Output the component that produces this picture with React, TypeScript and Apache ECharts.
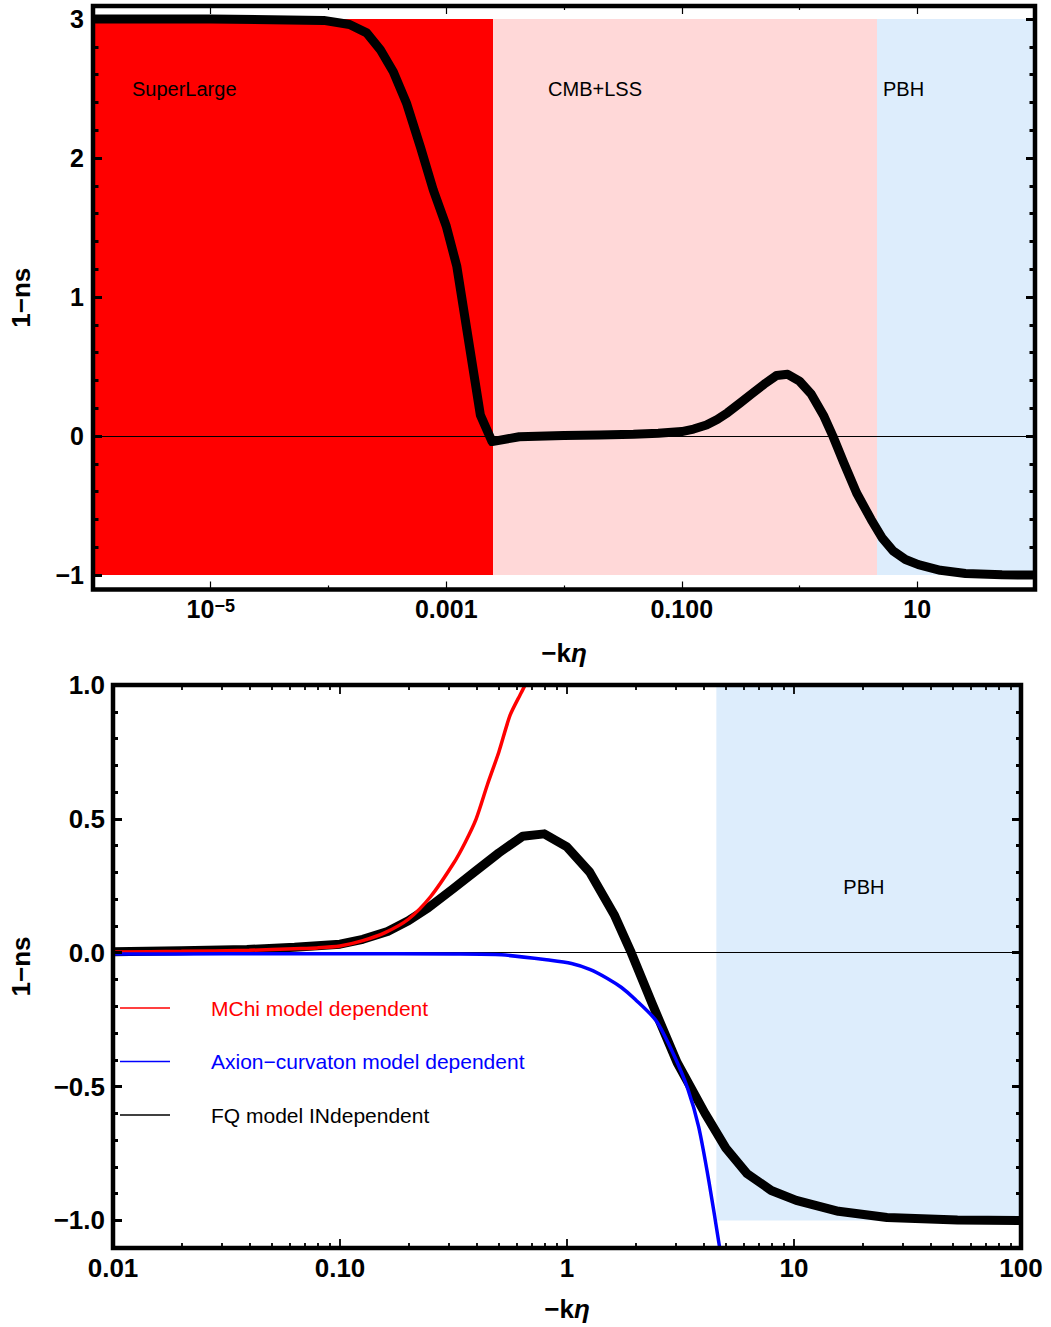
import React, { useEffect, useRef } from 'react';
import * as echarts from 'echarts';

const FONT = '"Liberation Sans", Arial, Helvetica, sans-serif';

// ---------- data ----------
// top panel: steep part of the FQ curve at super-large scales
const kTop = [1e-6, 1e-5, 9.1e-5, 1.51e-4, 2.11e-4, 2.75e-4, 3.55e-4, 4.62e-4, 6.03e-4, 7.76e-4, 1.0e-3, 1.23e-3, 1.95e-3, 2.45e-3, 4.17e-3];
const nsTop = [3.0, 3.0, 2.99, 2.96, 2.9, 2.78, 2.62, 2.39, 2.08, 1.77, 1.51, 1.22, 0.15, -0.04, -0.005];

// FQ model INdependent (0.01 .. 100)
const kFQ = [0.01, 0.02, 0.0389, 0.0631, 0.1, 0.126, 0.162, 0.2, 0.245, 0.316, 0.389, 0.501, 0.638, 0.794, 1, 1.256, 1.614, 1.919, 2.371, 3.055, 4.055, 5.01, 6.21, 7.94, 10.23, 15.7, 25.7, 52.5, 100];
const nsFQ = [0.004, 0.007, 0.012, 0.02, 0.032, 0.05, 0.079, 0.119, 0.168, 0.24, 0.3, 0.373, 0.435, 0.444, 0.395, 0.302, 0.142, 0.0, -0.19, -0.41, -0.6, -0.73, -0.825, -0.888, -0.925, -0.966, -0.989, -0.998, -1.0];

// MChi model dependent
const kMChi = [0.01, 0.02, 0.0398, 0.0631, 0.0794, 0.1, 0.126, 0.158, 0.2, 0.251, 0.316, 0.355, 0.398, 0.447, 0.501, 0.562, 0.631, 0.653, 0.708];
const nsMChi = [0.003, 0.005, 0.009, 0.015, 0.018, 0.025, 0.045, 0.075, 0.125, 0.21, 0.333, 0.41, 0.5, 0.63, 0.75, 0.888, 0.974, 1.0, 1.08];

// Axion-curvaton model dependent
const kAx = [0.01, 0.0316, 0.1, 0.316, 0.515, 0.845, 1.047, 1.259, 1.5, 1.738, 1.995, 2.47, 2.95, 3.4, 3.8, 4.22, 4.68, 4.79];
const nsAx = [-0.005, -0.004, -0.004, -0.005, -0.008, -0.028, -0.04, -0.062, -0.095, -0.13, -0.174, -0.254, -0.38, -0.507, -0.65, -0.855, -1.09, -1.15];

// regions
const topRegionNames = ['SuperLarge', 'CMB+LSS', 'PBH'];
const topRegionFrom = [1e-6, 0.0025, 4.55];
const topRegionTo = [0.0025, 4.55, 100];
const topRegionYRange = [-1, 3];
const botRegionName = 'PBH';
const botRegionFrom = 4.55;
const botRegionTo = 100;
const botRegionYRange = [-1, 1];

// tick labels
const topXTickVals = [1e-5, 1e-3, 0.1, 10];
const topXTickText = ['10^−5', '0.001', '0.100', '10'];
const topYTickVals = [-1, 0, 1, 2, 3];
const topYTickText = ['−1', '0', '1', '2', '3'];
const botXTickVals = [0.01, 0.1, 1, 10, 100];
const botXTickText = ['0.01', '0.10', '1', '10', '100'];
const botYTickVals = [-1, -0.5, 0, 0.5, 1];
const botYTickText = ['−1.0', '−0.5', '0.0', '0.5', '1.0'];

const seriesNames = ['MChi model dependent', 'Axion−curvaton model dependent', 'FQ model INdependent'];

// ---------- helpers ----------
const pairs = (xs: number[], ys: number[]) => xs.map((x, i) => [x, ys[i]]);

const nearestText = (vals: number[], texts: string[], v: number, log: boolean) => {
  let best = 0;
  let bd = Infinity;
  vals.forEach((t, i) => {
    const d = log ? Math.abs(Math.log10(t) - Math.log10(v)) : Math.abs(t - v);
    if (d < bd) { bd = d; best = i; }
  });
  return texts[best];
};

const topMinorX: number[] = [];
for (let e = -6; e <= 2; e++) {
  const v = Math.pow(10, e);
  if (!topXTickVals.some((t) => Math.abs(Math.log10(t) - e) < 1e-6)) topMinorX.push(v);
}
const topMinorY: number[] = [];
for (let i = -5; i <= 15; i++) { if (i % 5 !== 0) topMinorY.push(i * 0.2); }
const botMinorX: number[] = [];
for (let e = -2; e <= 1; e++) for (let m = 2; m <= 9; m++) botMinorX.push(m * Math.pow(10, e));
const botMinorY: number[] = [];
for (let i = -10; i <= 10; i++) { if (i % 5 !== 0) botMinorY.push(i * 0.1); }

const axisName = {
  fontFamily: FONT,
  fontSize: 26,
  fontWeight: 'bold',
  color: '#000',
  rich: {
    a: { fontFamily: FONT, fontSize: 26, fontWeight: 'bold', color: '#000' },
    b: { fontFamily: FONT, fontSize: 26, fontWeight: 'bold', fontStyle: 'italic', color: '#000' },
  },
};

function xAx(grid: number, min: number, max: number, pos: string, vals: number[], len: number, w: number, extra: any = {}) {
  return {
    type: 'log',
    logBase: 10,
    gridIndex: grid,
    min,
    max,
    position: pos,
    z: 10,
    axisLine: { show: false, onZero: false },
    splitLine: { show: false },
    axisTick: { show: true, inside: true, length: len, lineStyle: { color: '#000', width: w }, customValues: vals },
    axisLabel: { show: false },
    ...extra,
  };
}
function yAx(grid: number, min: number, max: number, pos: string, vals: number[], len: number, w: number, extra: any = {}) {
  return {
    type: 'value',
    gridIndex: grid,
    min,
    max,
    position: pos,
    z: 10,
    axisLine: { show: false, onZero: false },
    splitLine: { show: false },
    axisTick: { show: true, inside: true, length: len, lineStyle: { color: '#000', width: w }, customValues: vals },
    axisLabel: { show: false },
    ...extra,
  };
}

const TOP_YMIN = -1.104;
const TOP_YMAX = 3.0935;
const BOT_YMIN = -1.103;
const BOT_YMAX = 1.0;

const option: any = {
  animation: false,
  backgroundColor: '#fff',
  textStyle: { fontFamily: FONT },
  grid: [
    { left: 93, right: 16, top: 6, bottom: 737.5, show: true, z: 20, borderColor: '#000', borderWidth: 4.5, backgroundColor: 'transparent' },
    { left: 110, right: 30, top: 685, bottom: 79, show: true, z: 20, borderColor: '#000', borderWidth: 4.5, backgroundColor: 'transparent' },
  ],
  xAxis: [
    xAx(0, 1e-6, 100, 'bottom', topXTickVals, 8, 1.2, {
      name: '{a|−k}{b|η}',
      nameLocation: 'middle',
      nameGap: 50,
      nameTextStyle: axisName,
      axisLabel: {
        show: true,
        customValues: topXTickVals,
        margin: 7,
        fontFamily: FONT,
        fontSize: 25,
        fontWeight: 'bold',
        color: '#000',
        formatter: (v: number) => {
          const t = nearestText(topXTickVals, topXTickText, v, true);
          if (t.indexOf('^') >= 0) {
            const [b, e] = t.split('^');
            return `{n|${b}}{s|${e}}`;
          }
          return t;
        },
        rich: {
          n: { fontFamily: FONT, fontSize: 25, fontWeight: 'bold', color: '#000' },
          s: { fontFamily: FONT, fontSize: 18, fontWeight: 'bold', color: '#000', verticalAlign: 'top', lineHeight: 10 },
        },
      },
    }),
    xAx(0, 1e-6, 100, 'bottom', topMinorX, 4, 1.2),
    xAx(0, 1e-6, 100, 'top', topXTickVals, 8, 1.2),
    xAx(0, 1e-6, 100, 'top', topMinorX, 4, 1.2),
    xAx(1, 0.01, 100, 'bottom', botXTickVals, 9, 1.8, {
      name: '{a|−k}{b|η}',
      nameLocation: 'middle',
      nameGap: 48,
      nameTextStyle: axisName,
      axisLabel: {
        show: true,
        customValues: botXTickVals,
        margin: 7,
        fontFamily: FONT,
        fontSize: 26,
        fontWeight: 'bold',
        color: '#000',
        formatter: (v: number) => nearestText(botXTickVals, botXTickText, v, true),
      },
    }),
    xAx(1, 0.01, 100, 'bottom', botMinorX, 5, 1.8),
    xAx(1, 0.01, 100, 'top', botXTickVals, 9, 1.8),
    xAx(1, 0.01, 100, 'top', botMinorX, 5, 1.8),
  ],
  yAxis: [
    yAx(0, TOP_YMIN, TOP_YMAX, 'left', topYTickVals, 9, 3, {
      name: '1−ns',
      nameLocation: 'middle',
      nameGap: 59,
      nameRotate: 90,
      nameTextStyle: axisName,
      axisLabel: {
        show: true,
        customValues: topYTickVals,
        margin: 9,
        fontFamily: FONT,
        fontSize: 25,
        fontWeight: 'bold',
        color: '#000',
        formatter: (v: number) => nearestText(topYTickVals, topYTickText, v, false),
      },
    }),
    yAx(0, TOP_YMIN, TOP_YMAX, 'left', topMinorY, 5.5, 3),
    yAx(0, TOP_YMIN, TOP_YMAX, 'right', topYTickVals, 9, 3),
    yAx(0, TOP_YMIN, TOP_YMAX, 'right', topMinorY, 5.5, 3),
    yAx(1, BOT_YMIN, BOT_YMAX, 'left', botYTickVals, 9, 3, {
      name: '1−ns',
      nameLocation: 'middle',
      nameGap: 79,
      nameRotate: 90,
      nameTextStyle: axisName,
      axisLabel: {
        show: true,
        customValues: botYTickVals,
        margin: 8,
        fontFamily: FONT,
        fontSize: 26,
        fontWeight: 'bold',
        color: '#000',
        formatter: (v: number) => nearestText(botYTickVals, botYTickText, v, false),
      },
    }),
    yAx(1, BOT_YMIN, BOT_YMAX, 'left', botMinorY, 5, 3),
    yAx(1, BOT_YMIN, BOT_YMAX, 'right', botYTickVals, 9, 3),
    yAx(1, BOT_YMIN, BOT_YMAX, 'right', botMinorY, 5, 3),
  ],
  legend: {
    orient: 'vertical',
    left: 120,
    top: 996,
    padding: 0,
    itemWidth: 50,
    itemHeight: 1.6,
    itemGap: 29.5,
    icon: 'rect',
    selectedMode: false,
    textStyle: { fontFamily: FONT, fontSize: 21, lineHeight: 24, padding: [0, 0, 0, 36] },
    data: [
      { name: seriesNames[0], textStyle: { color: '#ff0000' } },
      { name: seriesNames[1], textStyle: { color: '#0000ff' } },
      { name: seriesNames[2], textStyle: { color: '#000000' } },
    ],
  },
  series: [
    // top regions
    {
      name: 'top-regions',
      type: 'line',
      xAxisIndex: 0,
      yAxisIndex: 0,
      data: [],
      z: 1,
      silent: true,
      markArea: {
        silent: true,
        data: topRegionNames.map((n, i) => [
          {
            name: n,
            xAxis: topRegionFrom[i],
            yAxis: topRegionYRange[0],
            itemStyle: { color: ['#ff0000', '#ffd8d8', '#ddedfc'][i], opacity: 1 },
            label: {
              show: true,
              position: [[39, 70], [55, 70], [6, 70]][i],
              align: 'left',
              verticalAlign: 'middle',
              color: '#000',
              fontFamily: FONT,
              fontSize: 20,
            },
          },
          { xAxis: topRegionTo[i], yAxis: topRegionYRange[1] },
        ]),
      },
    },
    {
      name: 'top-zero',
      type: 'line',
      xAxisIndex: 0,
      yAxisIndex: 0,
      data: [],
      z: 2,
      silent: true,
      markLine: {
        silent: true,
        symbol: 'none',
        label: { show: false },
        lineStyle: { color: '#000', width: 1, type: 'solid' },
        data: [{ yAxis: 0 }],
      },
    },
    {
      name: 'FQ top',
      type: 'line',
      xAxisIndex: 0,
      yAxisIndex: 0,
      z: 5,
      symbol: 'none',
      lineStyle: { color: '#000', width: 9, join: 'round' },
      itemStyle: { color: '#000' },
      data: pairs(kTop.concat(kFQ), nsTop.concat(nsFQ)),
    },
    // bottom
    {
      name: 'bot-regions',
      type: 'line',
      xAxisIndex: 4,
      yAxisIndex: 4,
      data: [],
      z: 1,
      silent: true,
      markArea: {
        silent: true,
        data: [
          [
            {
              name: botRegionName,
              xAxis: botRegionFrom,
              yAxis: botRegionYRange[0],
              itemStyle: { color: '#ddedfc', opacity: 1 },
              label: {
                show: true,
                position: [127, 202],
                align: 'left',
                verticalAlign: 'middle',
                color: '#000',
                fontFamily: FONT,
                fontSize: 20,
              },
            },
            { xAxis: botRegionTo, yAxis: botRegionYRange[1] },
          ],
        ],
      },
    },
    {
      name: 'bot-zero',
      type: 'line',
      xAxisIndex: 4,
      yAxisIndex: 4,
      data: [],
      z: 2,
      silent: true,
      markLine: {
        silent: true,
        symbol: 'none',
        label: { show: false },
        lineStyle: { color: '#000', width: 1, type: 'solid' },
        data: [{ yAxis: 0 }],
      },
    },
    {
      name: seriesNames[2],
      type: 'line',
      xAxisIndex: 4,
      yAxisIndex: 4,
      z: 4,
      symbol: 'none',
      lineStyle: { color: '#000', width: 9, join: 'round' },
      itemStyle: { color: '#000' },
      data: pairs(kFQ, nsFQ),
    },
    {
      name: seriesNames[0],
      type: 'line',
      xAxisIndex: 4,
      yAxisIndex: 4,
      z: 5,
      symbol: 'none',
      smooth: 0.25,
      lineStyle: { color: '#ff0000', width: 3.5 },
      itemStyle: { color: '#ff0000' },
      data: pairs(kMChi, nsMChi),
    },
    {
      name: seriesNames[1],
      type: 'line',
      xAxisIndex: 4,
      yAxisIndex: 4,
      z: 5,
      symbol: 'none',
      smooth: 0.25,
      lineStyle: { color: '#0000ff', width: 3.5 },
      itemStyle: { color: '#0000ff' },
      data: pairs(kAx, nsAx),
    },
  ],
};

export default function App() {
  const ref = useRef<HTMLDivElement>(null);
  useEffect(() => {
    if (!ref.current) return;
    const chart = echarts.init(ref.current, null, { renderer: 'svg' });
    chart.setOption(option);
    return () => chart.dispose();
  }, []);
  return (
    <div
      ref={ref}
      style={{ position: 'absolute', left: 0, top: 0, width: 1051, height: 1327, background: '#fff' }}
    />
  );
}
